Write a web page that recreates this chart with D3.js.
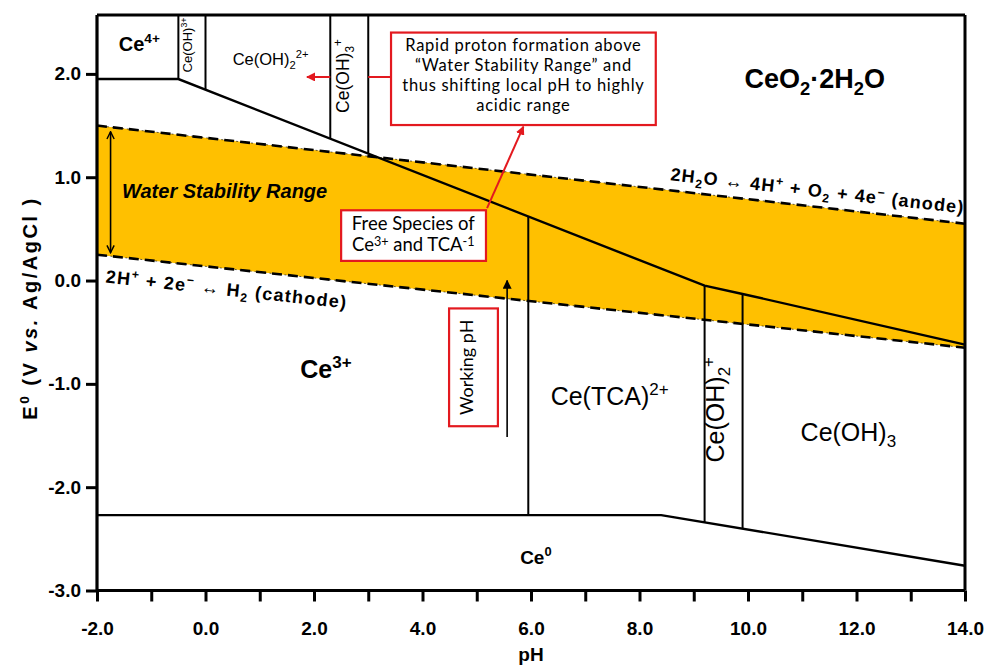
<!DOCTYPE html>
<html>
<head>
<meta charset="utf-8">
<script src="https://cdn.jsdelivr.net/npm/d3@7"></script>
<style>
  body { margin: 0; background: #fff; }
  svg { display: block; }
</style>
</head>
<body>
<svg id="chart"></svg>
<script>
// axis ticks
const xTickValues = [-2, -1, 0, 1, 2, 3, 4, 5, 6, 7, 8, 9, 10, 11, 12, 13, 14];
const xLabelled = [-2, 0, 2, 4, 6, 8, 10, 12, 14];
const yTickValues = [-3, -2, -1, 0, 1, 2];

// water stability lines [pH, E]
const waterTop = [[-2, 1.50], [14, 0.55]];
const waterBottom = [[-2, 0.25], [14, -0.65]];

// phase boundaries [pH, E]
const ceIVBoundary = [[-2, 1.95], [-0.5, 1.95], [9.2, -0.05], [9.9, -0.13], [14, -0.62]];
const ce0Boundary = [[-2, -2.27], [8.4, -2.27], [14, -2.76]];
const upperDividers = [-0.5, 0.0, 2.3, 3.0];
const lowerDividers = [5.95, 9.2, 9.9];

const width = 987, height = 668;
const red = "#e3191f";
const orange = "#ffc000";
const arial = "'Liberation Sans', Arial, sans-serif";
const calibri = "Lato, 'Open Sans', sans-serif";

const svg = d3.select("#chart").attr("width", width).attr("height", height);

const x = d3.scaleLinear().domain([-2, 14]).range([97, 965]);
const y = d3.scaleLinear().domain([-3, 2.57]).range([590.5, 15]);
const yTop = y.domain()[1];

// linear lookup along a polyline
function yAt(line, px) {
  for (let i = 0; i < line.length - 1; i++) {
    const [x0, y0] = line[i], [x1, y1] = line[i + 1];
    if (px >= x0 && px <= x1) return y0 + (y1 - y0) * (px - x0) / (x1 - x0);
  }
  return line[line.length - 1][1];
}

// text with sub / superscripts: parts = [[text, kind, style]]
function rich(sel, parts, fs, supShift = 0.4) {
  let shift = 0;
  parts.forEach(([txt, kind, style]) => {
    const target = kind === "sup" ? -supShift * fs : kind === "sub" ? 0.25 * fs : 0;
    const ts = sel.append("tspan").text(txt).attr("dy", target - shift);
    if (kind) ts.attr("font-size", fs * 0.68);
    if (style === "i") ts.attr("font-style", "italic");
    if (style === "n") ts.attr("font-weight", "normal");
    shift = target;
  });
  return sel;
}

const defs = svg.append("defs");
function marker(id, color, open) {
  const m = defs.append("marker").attr("id", id)
    .attr("viewBox", "0 0 10 10").attr("refX", 9).attr("refY", 5)
    .attr("markerWidth", 9).attr("markerHeight", 9)
    .attr("markerUnits", "userSpaceOnUse").attr("orient", "auto-start-reverse");
  m.append("path").attr("d", open ? "M1,1 L9,5 L1,9" : "M0,0 L10,5 L0,10 Z")
    .attr("fill", open ? "none" : color).attr("stroke", open ? color : "none")
    .attr("stroke-width", open ? 1.6 : 0);
}
marker("redHead", red, false);
marker("blackHead", "#000", false);
marker("openHead", "#000", true);

const line = d3.line().x(d => x(d[0])).y(d => y(d[1]));

// water stability band
const band = waterTop.concat(waterBottom.slice().reverse());
svg.append("path").attr("d", line(band) + "Z").attr("fill", orange);
svg.append("path").attr("d", line(band) + "Z").attr("fill", "none")
  .attr("stroke", "#000").attr("stroke-width", 0.6).attr("stroke-dasharray", "2,3");

[waterTop, waterBottom].forEach(l => {
  svg.append("path").attr("d", line(l)).attr("fill", "none")
    .attr("stroke", "#000").attr("stroke-width", 2.6).attr("stroke-dasharray", "10,6");
});

// phase boundaries
[ceIVBoundary, ce0Boundary].forEach(l => {
  svg.append("path").attr("d", line(l)).attr("fill", "none")
    .attr("stroke", "#000").attr("stroke-width", 2.4);
});
svg.selectAll(".upDiv").data(upperDividers).join("line")
  .attr("x1", d => x(d)).attr("x2", d => x(d))
  .attr("y1", y(yTop)).attr("y2", d => y(yAt(ceIVBoundary, d)))
  .attr("stroke", "#000").attr("stroke-width", 2);
svg.selectAll(".lowDiv").data(lowerDividers).join("line")
  .attr("x1", d => x(d)).attr("x2", d => x(d))
  .attr("y1", d => y(yAt(ceIVBoundary, d))).attr("y2", d => y(yAt(ce0Boundary, d)))
  .attr("stroke", "#000").attr("stroke-width", 2);

// region labels
function label(px, py, parts, fs, opts = {}) {
  const g = svg.append("g").attr("transform",
    `translate(${x(px)},${y(py)})` + (opts.rotate ? ` rotate(${opts.rotate})` : ""));
  const t = g.append("text").attr("font-family", opts.family || arial)
    .attr("font-size", fs).attr("font-weight", opts.bold ? "bold" : "normal")
    .attr("font-style", opts.italic ? "italic" : "normal")
    .attr("text-anchor", opts.anchor || "middle").attr("fill", "#000");
  if (opts.spacing) t.attr("letter-spacing", opts.spacing);
  rich(t, parts, fs, opts.sup || 0.4);
  return t;
}

label(-1.22, 2.22, [["Ce"], ["4+", "sup"]], 20, { bold: true });
label(-0.25, 2.28, [["Ce(OH)"], ["3+", "sup"]], 13, { rotate: -90 }).attr("dy", 4.5);
label(1.2, 2.09, [["Ce(OH)"], ["2", "sub"], ["2+", "sup"]], 16.5);
label(2.65, 1.98, [["Ce(OH)"], ["3", "sub"], ["+", "sup"]], 17.5, { rotate: -90 }).attr("dy", 6);
label(11.23, 1.86, [["CeO"], ["2", "sub"], ["·2H"], ["2", "sub"], ["O"]], 27, { bold: true });
label(2.22, -0.94, [["Ce"], ["3+", "sup"]], 25, { bold: true });
label(7.45, -1.2, [["Ce(TCA)"], ["2+", "sup"]], 25);
label(9.55, -1.25, [["Ce(OH)"], ["2", "sub"], ["+", "sup"]], 25, { rotate: -90 }).attr("dy", 9);
label(11.85, -1.55, [["Ce(OH)"], ["3", "sub"]], 25);
label(6.09, -2.74, [["Ce"], ["0", "sup"]], 19, { bold: true });
label(-1.54, 0.80, [["Water Stability Range"]], 20, { bold: true, italic: true, anchor: "start" });

// reaction labels along the dashed lines
const angBottom = Math.atan2(y(waterBottom[1][1]) - y(waterBottom[0][1]), x(14) - x(-2)) * 180 / Math.PI;
const angTop = Math.atan2(y(waterTop[1][1]) - y(waterTop[0][1]), x(14) - x(-2)) * 180 / Math.PI;
label(-1.85, -0.02, [["2H"], ["+", "sup"], [" + 2e"], ["\u2212", "sup"], [" \u2194 ", null, "n"], ["H"], ["2", "sub"], [" (cathode)"]],
  18, { bold: true, anchor: "start", rotate: angBottom, spacing: 1.3 });
label(8.56, 0.97, [["2H"], ["2", "sub"], ["O"], [" \u2194 ", null, "n"], ["4H"], ["+", "sup"], [" + O"], ["2", "sub"], [" + 4e"], ["\u2212", "sup"], [" (anode)"]],
  18, { bold: true, anchor: "start", rotate: angTop, spacing: 1.2 });

// double arrow for water stability range
svg.append("line").attr("x1", x(-1.75)).attr("x2", x(-1.75))
  .attr("y1", y(1.44)).attr("y2", y(0.27))
  .attr("stroke", "#000").attr("stroke-width", 1.6)
  .attr("marker-start", "url(#openHead)").attr("marker-end", "url(#openHead)");

// red annotation boxes
function box(x0, y0, x1, y1) {
  svg.append("rect").attr("x", x(x0)).attr("y", y(y0))
    .attr("width", x(x1) - x(x0)).attr("height", y(y1) - y(y0))
    .attr("fill", "#fff").attr("stroke", red).attr("stroke-width", 2.2);
}

box(3.42, 2.40, 8.30, 1.505);
const noteLines = ["Rapid proton formation above", "\u201cWater Stability Range\u201d and",
  "thus shifting local pH to highly", "acidic range"];
noteLines.forEach((s, i) => {
  label(5.86, 2.222 - i * 0.194, [[s]], 16.5, { family: calibri, spacing: 0.7 });
});
// arrow to the left, hidden behind the Ce(OH)3+ column
svg.append("line").attr("x1", x(3.42)).attr("x2", x(3.0)).attr("y1", y(1.97)).attr("y2", y(1.97))
  .attr("stroke", red).attr("stroke-width", 2);
svg.append("line").attr("x1", x(2.3)).attr("x2", x(1.87)).attr("y1", y(1.97)).attr("y2", y(1.97))
  .attr("stroke", red).attr("stroke-width", 2).attr("marker-end", "url(#redHead)");

// arrow from free species box up to note
svg.append("line").attr("x1", x(5.19)).attr("y1", y(0.70)).attr("x2", x(5.86)).attr("y2", y(1.49))
  .attr("stroke", red).attr("stroke-width", 2).attr("marker-end", "url(#redHead)");

box(2.50, 0.68, 5.17, 0.19);
label(3.83, 0.49, [["Free Species of"]], 18.5, { family: calibri });
label(3.83, 0.285, [["Ce"], ["3+", "sup"], [" and TCA"], ["-1", "sup"]], 18.5, { family: calibri, sup: 0.3 });

box(4.49, -0.27, 5.39, -1.41);
label(4.94, -0.84, [["Working pH"]], 18, { family: calibri, rotate: -90 }).attr("dy", 6);

svg.append("line").attr("x1", x(5.56)).attr("x2", x(5.56)).attr("y1", y(-1.515)).attr("y2", y(0.0))
  .attr("stroke", "#000").attr("stroke-width", 1.6).attr("marker-end", "url(#blackHead)");

// frame
svg.append("line").attr("x1", x(-2)).attr("x2", x(14)).attr("y1", y(yTop)).attr("y2", y(yTop))
  .attr("stroke", "#000").attr("stroke-width", 3);
svg.append("line").attr("x1", x(14)).attr("x2", x(14)).attr("y1", y(yTop)).attr("y2", y(-3))
  .attr("stroke", "#000").attr("stroke-width", 3);

// axes
const xAxis = svg.append("g").attr("transform", `translate(0,${y(-3)})`)
  .call(d3.axisBottom(x).tickValues(xTickValues).tickSize(11).tickPadding(20)
    .tickFormat(d => xLabelled.includes(d) ? d.toFixed(1) : ""));
const yAxis = svg.append("g").attr("transform", `translate(${x(-2)},0)`)
  .call(d3.axisLeft(y).tickValues(yTickValues).tickSize(11).tickPadding(5)
    .tickFormat(d => d.toFixed(1)));
[xAxis, yAxis].forEach(a => {
  a.select(".domain").attr("stroke-width", 3.2);
  a.selectAll(".tick line").attr("stroke-width", 3);
  a.selectAll("text").attr("font-family", arial).attr("font-size", 19)
    .attr("font-weight", "bold").attr("fill", "#000");
});
xAxis.select(".domain").attr("d", `M${x(-2)},0H${x(14)}`);
yAxis.select(".domain").attr("d", `M0,${y(-3)}V${y(yTop)}`);

// axis titles
svg.append("text").attr("x", x(6)).attr("y", 661).attr("text-anchor", "middle")
  .attr("font-family", arial).attr("font-size", 19).attr("font-weight", "bold").text("pH");

const yTitle = svg.append("text").attr("transform", "translate(37,308) rotate(-90)")
  .attr("text-anchor", "middle").attr("font-family", arial)
  .attr("font-size", 20).attr("font-weight", "bold").attr("letter-spacing", 2.5);
rich(yTitle, [["E"], ["0", "sup"], [" (V "], ["vs.", null, "i"], [" Ag/AgCl )"]], 20);
</script>
</body>
</html>
